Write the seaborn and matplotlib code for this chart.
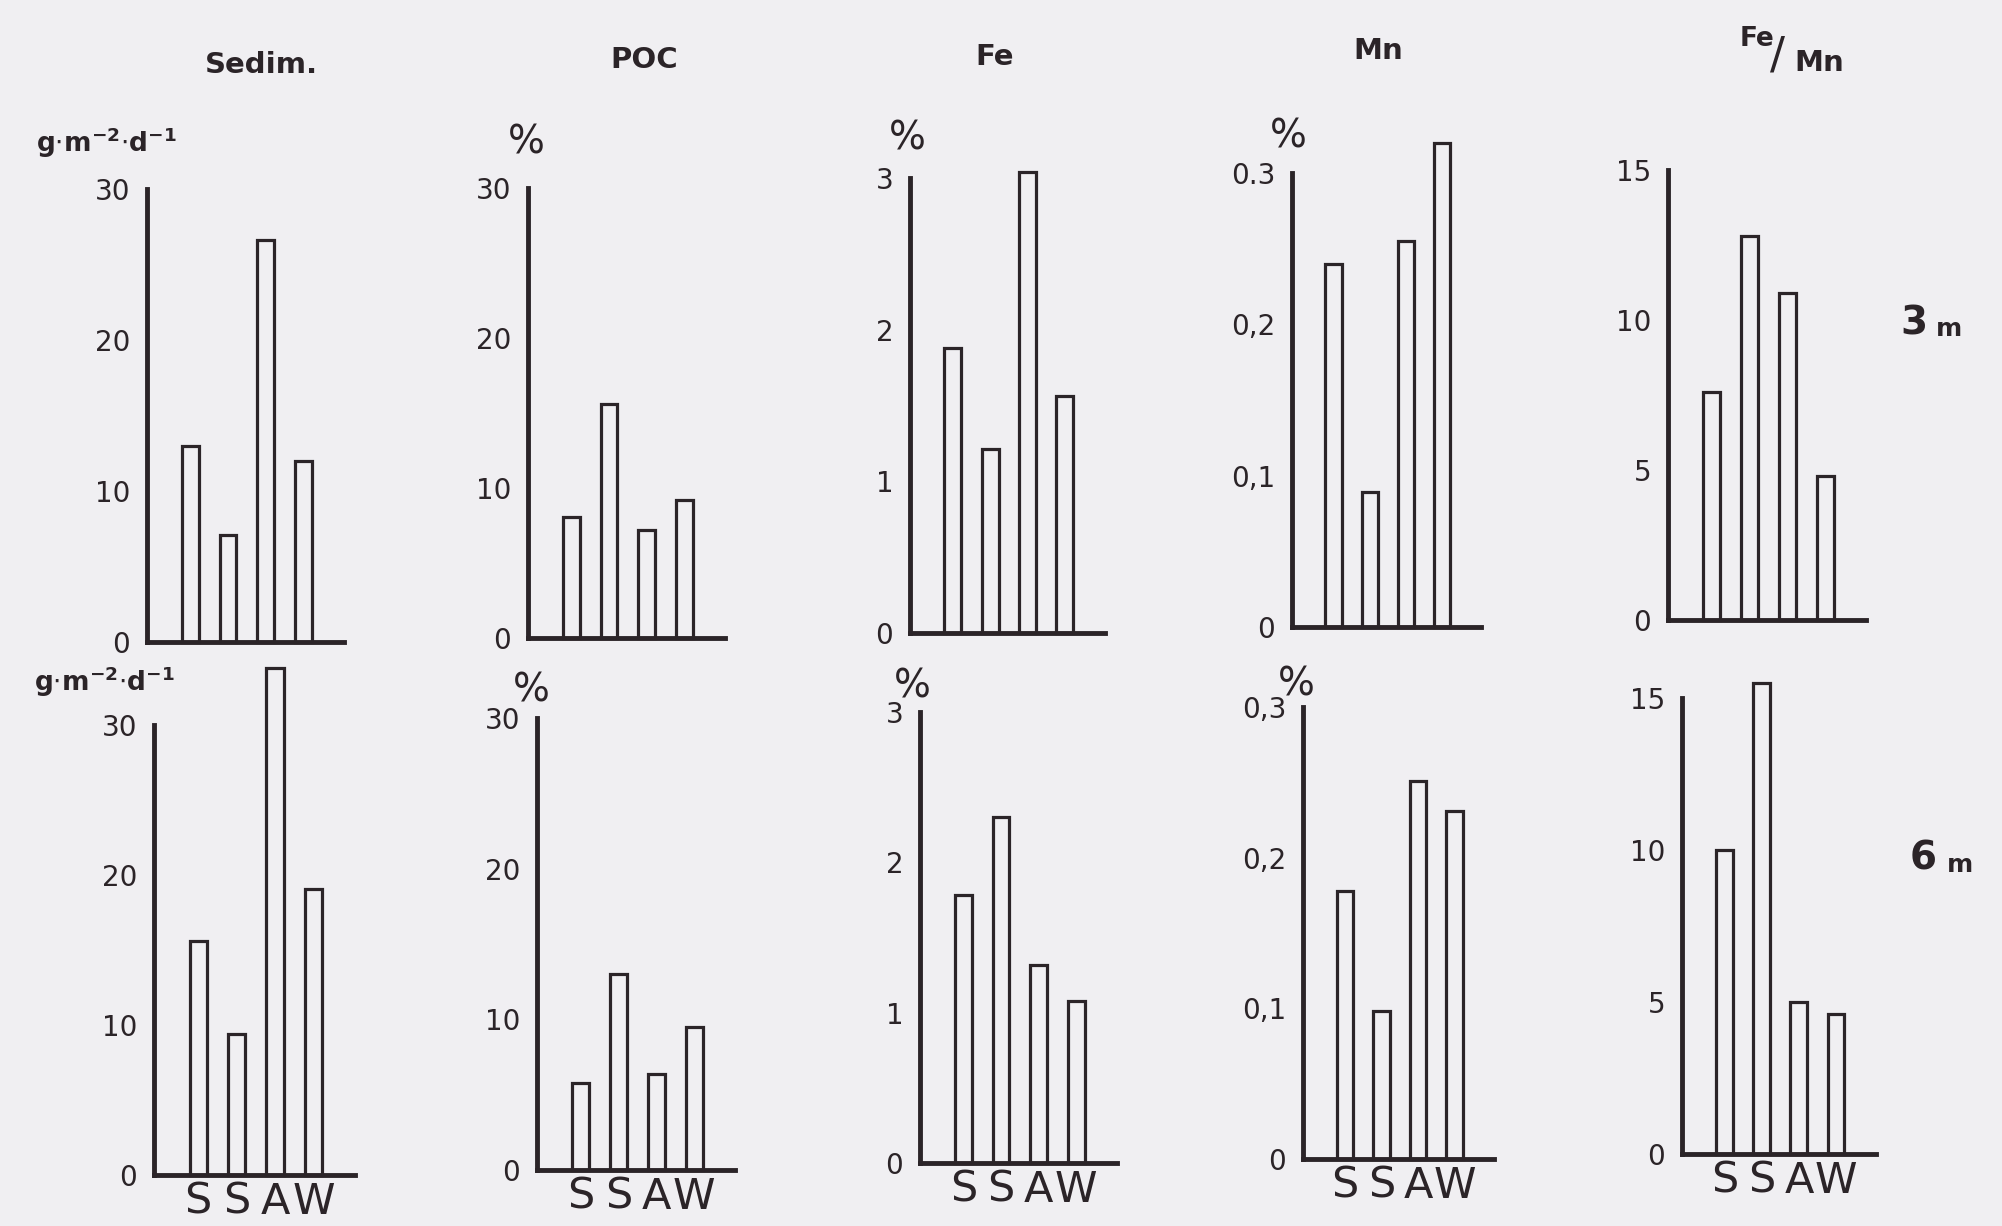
import matplotlib
matplotlib.use("Agg")
import matplotlib.pyplot as plt
import seaborn as sns

# Seasonal sediment-trap results at two depths
seasons = ["Spring", "Summer", "Autumn", "Winter"]
season_labels = ["S", "S", "A", "W"]

sedim_3m = [13.0, 7.1, 26.6, 12.0]
poc_3m = [8.1, 15.6, 7.2, 9.2]
fe_3m = [1.88, 1.21, 3.04, 1.56]
mn_3m = [0.240, 0.089, 0.255, 0.320]
femn_3m = [7.6, 12.8, 10.9, 4.8]

sedim_6m = [15.6, 9.4, 33.8, 19.1]
poc_6m = [5.8, 13.0, 6.4, 9.5]
fe_6m = [1.78, 2.30, 1.32, 1.08]
mn_6m = [0.178, 0.098, 0.251, 0.231]
femn_6m = [10.0, 15.5, 5.0, 4.6]

ticks_sedim = [0, 10, 20, 30]
ticks_poc = [0, 10, 20, 30]
ticks_fe = [0, 1, 2, 3]
ticks_mn = [0, 0.1, 0.2, 0.3]
ticks_femn = [0, 5, 10, 15]
labels_mn_top = ["0", "0,1", "0,2", "0.3"]
labels_mn_bottom = ["0", "0,1", "0,2", "0,3"]

sns.set_style("white")
plt.rcParams["font.family"] = ["DejaVu Sans"]
plt.rcParams["mathtext.fontset"] = "dejavusans"

W, H = 2002, 1226
paper = "#f0eff2"
ink = "#2b2428"
narrow = ["Liberation Sans Narrow", "DejaVu Sans"]

fig = plt.figure(figsize=(W / 100, H / 100), dpi=100, facecolor=paper)


def px_axes(left, right, zero_y, top_y):
    """Axes placed by pixel edges (y measured from the top of the figure)."""
    return fig.add_axes([left / W, 1 - zero_y / H, (right - left) / W, (zero_y - top_y) / H])


def panel(box, values, ticks, ticklabels, show_seasons):
    ax = px_axes(*box)
    ax.set_facecolor("none")
    sns.barplot(x=seasons, y=values, order=seasons, ax=ax, fill=False,
                color=ink, linewidth=2.3, width=0.45, errorbar=None)
    for p in ax.patches:
        p.set_clip_on(False)
    ax.set_xlim(-1.15, 4.08)
    ax.set_ylim(0, ticks[-1])
    ax.set_yticks(ticks)
    ax.set_yticklabels(ticklabels, fontsize=20, color=ink)
    ax.tick_params(axis="y", direction="out", length=11, width=2.0, color=ink, pad=1)
    for side in ("top", "right"):
        ax.spines[side].set_visible(False)
    for side in ("left", "bottom"):
        ax.spines[side].set_color(ink)
        ax.spines[side].set_linewidth(3.5)
    ax.set_xlabel("")
    ax.set_ylabel("")
    if show_seasons:
        ax.set_xticks(range(4))
        ax.set_xticklabels(season_labels, fontsize=31, color=ink, family=narrow)
        ax.tick_params(axis="x", length=0, pad=4)
    else:
        ax.set_xticks([])
    return ax


top_boxes = [(147, 344, 642, 189), (528, 725, 638, 188), (910, 1105, 633, 178),
             (1292, 1481, 627, 173), (1668, 1866, 620, 170)]
bottom_boxes = [(154, 355, 1175, 725), (537, 735, 1170, 718), (920, 1117, 1163, 712),
                (1303, 1494, 1159, 707), (1682, 1876, 1154, 698)]

top_data = [sedim_3m, poc_3m, fe_3m, mn_3m, femn_3m]
bottom_data = [sedim_6m, poc_6m, fe_6m, mn_6m, femn_6m]
tick_sets = [ticks_sedim, ticks_poc, ticks_fe, ticks_mn, ticks_femn]
top_labels = [[str(t) for t in ticks_sedim], [str(t) for t in ticks_poc],
              [str(t) for t in ticks_fe], labels_mn_top, [str(t) for t in ticks_femn]]
bottom_labels = top_labels[:3] + [labels_mn_bottom, top_labels[4]]

for box, vals, tks, lbls in zip(top_boxes, top_data, tick_sets, top_labels):
    panel(box, vals, tks, lbls, show_seasons=False)
for box, vals, tks, lbls in zip(bottom_boxes, bottom_data, tick_sets, bottom_labels):
    panel(box, vals, tks, lbls, show_seasons=True)


def ftext(x, y, s, **kw):
    kw.setdefault("color", ink)
    fig.text(x / W, 1 - y / H, s, **kw)


# column titles
ftext(261, 65, "Sedim.", fontsize=21, fontweight="bold", ha="center", va="center")
ftext(644, 60, "POC", fontsize=21, fontweight="bold", ha="center", va="center")
ftext(995, 57, "Fe", fontsize=21, fontweight="bold", ha="center", va="center")
ftext(1378, 51, "Mn", fontsize=21, fontweight="bold", ha="center", va="center")
ftext(1757, 39, "Fe", fontsize=19, fontweight="bold", ha="center", va="center")
ftext(1778, 56, "/", fontsize=32, ha="center", va="center")
ftext(1819, 63, "Mn", fontsize=21, fontweight="bold", ha="center", va="center")

# units above each axis
unit_sed = r"g$\cdot$m$^{\mathbf{-2}}$$\cdot$d$^{\mathbf{-1}}$"
ftext(106, 143, unit_sed, fontsize=19, fontweight="bold", ha="center", va="center")
ftext(526, 143, "%", fontsize=28, ha="center", va="center")
ftext(907, 139, "%", fontsize=28, ha="center", va="center")
ftext(1288, 136, "%", fontsize=28, ha="center", va="center")
ftext(104, 682, unit_sed, fontsize=19, fontweight="bold", ha="center", va="center")
ftext(531, 691, "%", fontsize=28, ha="center", va="center")
ftext(912, 687, "%", fontsize=28, ha="center", va="center")
ftext(1296, 684, "%", fontsize=28, ha="center", va="center")

# depth labels
ftext(1914, 323, "3", fontsize=28, fontweight="bold", ha="center", va="center")
ftext(1949, 329, "m", fontsize=18, fontweight="bold", ha="center", va="center")
ftext(1923, 859, "6", fontsize=28, fontweight="bold", ha="center", va="center")
ftext(1960, 865, "m", fontsize=18, fontweight="bold", ha="center", va="center")

fig.savefig("out.png", dpi=100, facecolor=paper)
